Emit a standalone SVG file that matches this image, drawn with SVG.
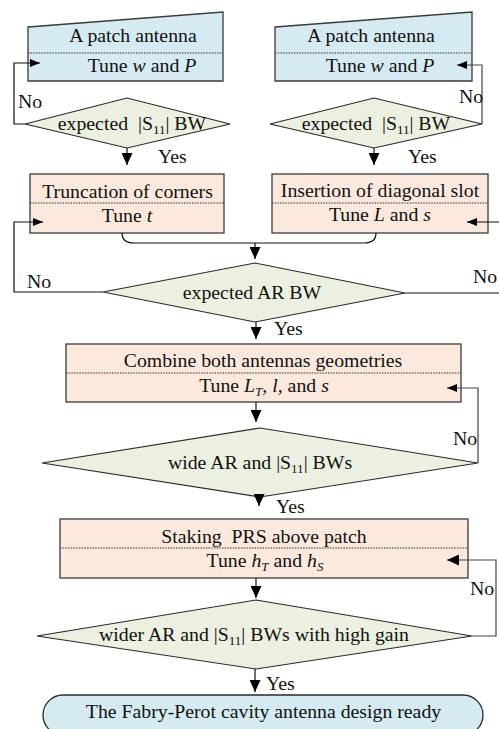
<svg xmlns="http://www.w3.org/2000/svg" width="499" height="729" viewBox="0 0 499 729">
<defs>
<style>
.bg{fill:#ffffff}
.io{fill:#d5eaf1;stroke:#3a3a3a;stroke-width:1.3}
.pr{fill:#fce9dd;stroke:#3a3a3a;stroke-width:1.3}
.dc{fill:#ebf0e0;stroke:#2a2a2a;stroke-width:1.2}
.te{fill:#d5eaf1;stroke:#2a2a2a;stroke-width:1.3}
.dot{stroke:#333;stroke-width:1;stroke-dasharray:1.5 1.2;fill:none}
.c{fill:none;stroke:#111;stroke-width:1.2}
.r{fill:none;stroke:#444;stroke-width:1.2}
text{font-family:"Liberation Serif","Times New Roman",serif;font-size:19.8px;fill:#111;white-space:pre}
.m{text-anchor:middle}
.i{font-style:italic}
.sub{font-size:13px}
</style>
<marker id="big" markerUnits="userSpaceOnUse" markerWidth="12" markerHeight="11" refX="12" refY="5.5" orient="auto" viewBox="0 0 12 11"><path d="M0,0 L12,5.5 L0,11 z" fill="#000"/></marker>
<marker id="sm" markerUnits="userSpaceOnUse" markerWidth="10" markerHeight="8" refX="10" refY="4" orient="auto" viewBox="0 0 10 8"><path d="M0,0 L10,4 L0,8 z" fill="#000"/></marker>
</defs>
<rect class="bg" x="0" y="0" width="499" height="729"/>

<g id="patch-left">
<polygon class="io" points="28,27 223,12 223,81 28,81"/>
<line class="dot" x1="28" y1="53" x2="223" y2="53"/>
<text class="m" x="133" y="42">A patch antenna</text>
<text class="m" x="142" y="72">Tune <tspan class="i">w</tspan> and <tspan class="i">P</tspan></text>
</g>

<g id="patch-right">
<polygon class="io" points="275,27 472,12 472,81 275,81"/>
<line class="dot" x1="275" y1="53" x2="472" y2="53"/>
<text class="m" x="371" y="42">A patch antenna</text>
<text class="m" x="380" y="72">Tune <tspan class="i">w</tspan> and <tspan class="i">P</tspan></text>
</g>

<g id="dec-left">
<polygon class="dc" points="25,124 127,98 230,124 127,148"/>
<text class="m" x="132" y="130">expected  |S<tspan class="sub" dy="4">11</tspan><tspan dy="-4">| BW</tspan></text>
</g>

<g id="dec-right">
<polygon class="dc" points="270,124 374,98 482,124 374,148"/>
<text class="m" x="376" y="130">expected  |S<tspan class="sub" dy="4">11</tspan><tspan dy="-4">| BW</tspan></text>
</g>

<g id="truncation">
<rect class="pr" x="30" y="174" width="194" height="59"/>
<line class="dot" x1="30" y1="203" x2="224" y2="203"/>
<text class="m" x="127.5" y="198">Truncation of corners</text>
<text class="m" x="127" y="222">Tune <tspan class="i">t</tspan></text>
</g>

<g id="insertion">
<rect class="pr" x="272" y="174" width="216" height="59"/>
<line class="dot" x1="272" y1="203" x2="488" y2="203"/>
<text class="m" x="380" y="197">Insertion of diagonal slot</text>
<text class="m" x="380" y="221">Tune <tspan class="i">L</tspan> and <tspan class="i">s</tspan></text>
</g>

<g id="dec-ar">
<polygon class="dc" points="103,292 255,263 405,293 255,322"/>
<text class="m" x="252" y="299">expected AR BW</text>
</g>

<g id="combine">
<rect class="pr" x="66" y="344" width="395" height="58"/>
<line class="dot" x1="66" y1="373" x2="461" y2="373"/>
<text class="m" x="263" y="367">Combine both antennas geometries</text>
<text class="m" x="264" y="392">Tune <tspan class="i">L</tspan><tspan class="i sub" dy="4">T</tspan><tspan class="i" dy="-4">, l,</tspan> and <tspan class="i">s</tspan></text>
</g>

<g id="dec-wide">
<polygon class="dc" points="42,463 260,428 478,463 260,497"/>
<text class="m" x="260" y="469">wide AR and |S<tspan class="sub" dy="4">11</tspan><tspan dy="-4">| BWs</tspan></text>
</g>

<g id="staking">
<rect class="pr" x="60" y="519" width="408" height="59"/>
<line class="dot" x1="60" y1="548" x2="468" y2="548"/>
<text class="m" x="264" y="543">Staking  PRS above patch</text>
<text class="m" x="265" y="567">Tune <tspan class="i">h</tspan><tspan class="i sub" dy="4">T</tspan><tspan dy="-4"> and </tspan><tspan class="i">h</tspan><tspan class="i sub" dy="4">S</tspan></text>
</g>

<g id="dec-wider">
<polygon class="dc" points="37,636 256,600 472,636 256,669"/>
<text class="m" x="254" y="641">wider AR and |S<tspan class="sub" dy="4">11</tspan><tspan dy="-4">| BWs with high gain</tspan></text>
</g>

<g id="terminal">
<rect class="te" x="43" y="695" width="440" height="40" rx="20" ry="20"/>
<text class="m" x="263.5" y="718">The Fabry-Perot cavity antenna design ready</text>
</g>

<g id="connectors">
<line class="c" x1="127" y1="148" x2="127" y2="165" marker-end="url(#big)"/>
<line class="c" x1="374" y1="148" x2="374" y2="165" marker-end="url(#big)"/>
<polyline class="c" points="25,124 14,124 14,63 40,63" marker-end="url(#sm)"/>
<polyline class="r" points="482,124 482,65 457,65" marker-end="url(#sm)"/>
<path class="c" d="M122,233 C122,240 126,243 134,243 L364,243 C372,243 376,240 376,233"/>
<line class="c" x1="255" y1="243" x2="255" y2="259" marker-end="url(#big)"/>
<polyline class="c" points="103,292 14,292 14,222 43,222" marker-end="url(#sm)"/>
<line class="c" x1="405" y1="293" x2="505" y2="293"/>
<line class="c" x1="505" y1="222" x2="467" y2="222" marker-end="url(#sm)"/>
<line class="c" x1="256" y1="322" x2="256" y2="339" marker-end="url(#big)"/>
<line class="c" x1="256" y1="402" x2="256" y2="422" marker-end="url(#big)"/>
<polyline class="r" points="478,463 478,388 447,388" marker-end="url(#sm)"/>
<line class="c" x1="259" y1="497" x2="259" y2="506" marker-end="url(#big)"/>
<line class="c" x1="256" y1="578" x2="256" y2="598" marker-end="url(#big)"/>
<polyline class="r" points="472,636 496,636 496,560 447,560" marker-end="url(#big)"/>
<line class="c" x1="255" y1="669" x2="255" y2="692" marker-end="url(#big)"/>
</g>

<g id="labels">
<text x="18" y="108">No</text>
<text x="158" y="163">Yes</text>
<text x="459" y="103">No</text>
<text x="408" y="163">Yes</text>
<text x="27" y="288">No</text>
<text x="473" y="283">No</text>
<text x="274" y="335">Yes</text>
<text x="453" y="445">No</text>
<text x="276" y="513">Yes</text>
<text x="470" y="595">No</text>
<text x="266" y="690">Yes</text>
</g>
</svg>
